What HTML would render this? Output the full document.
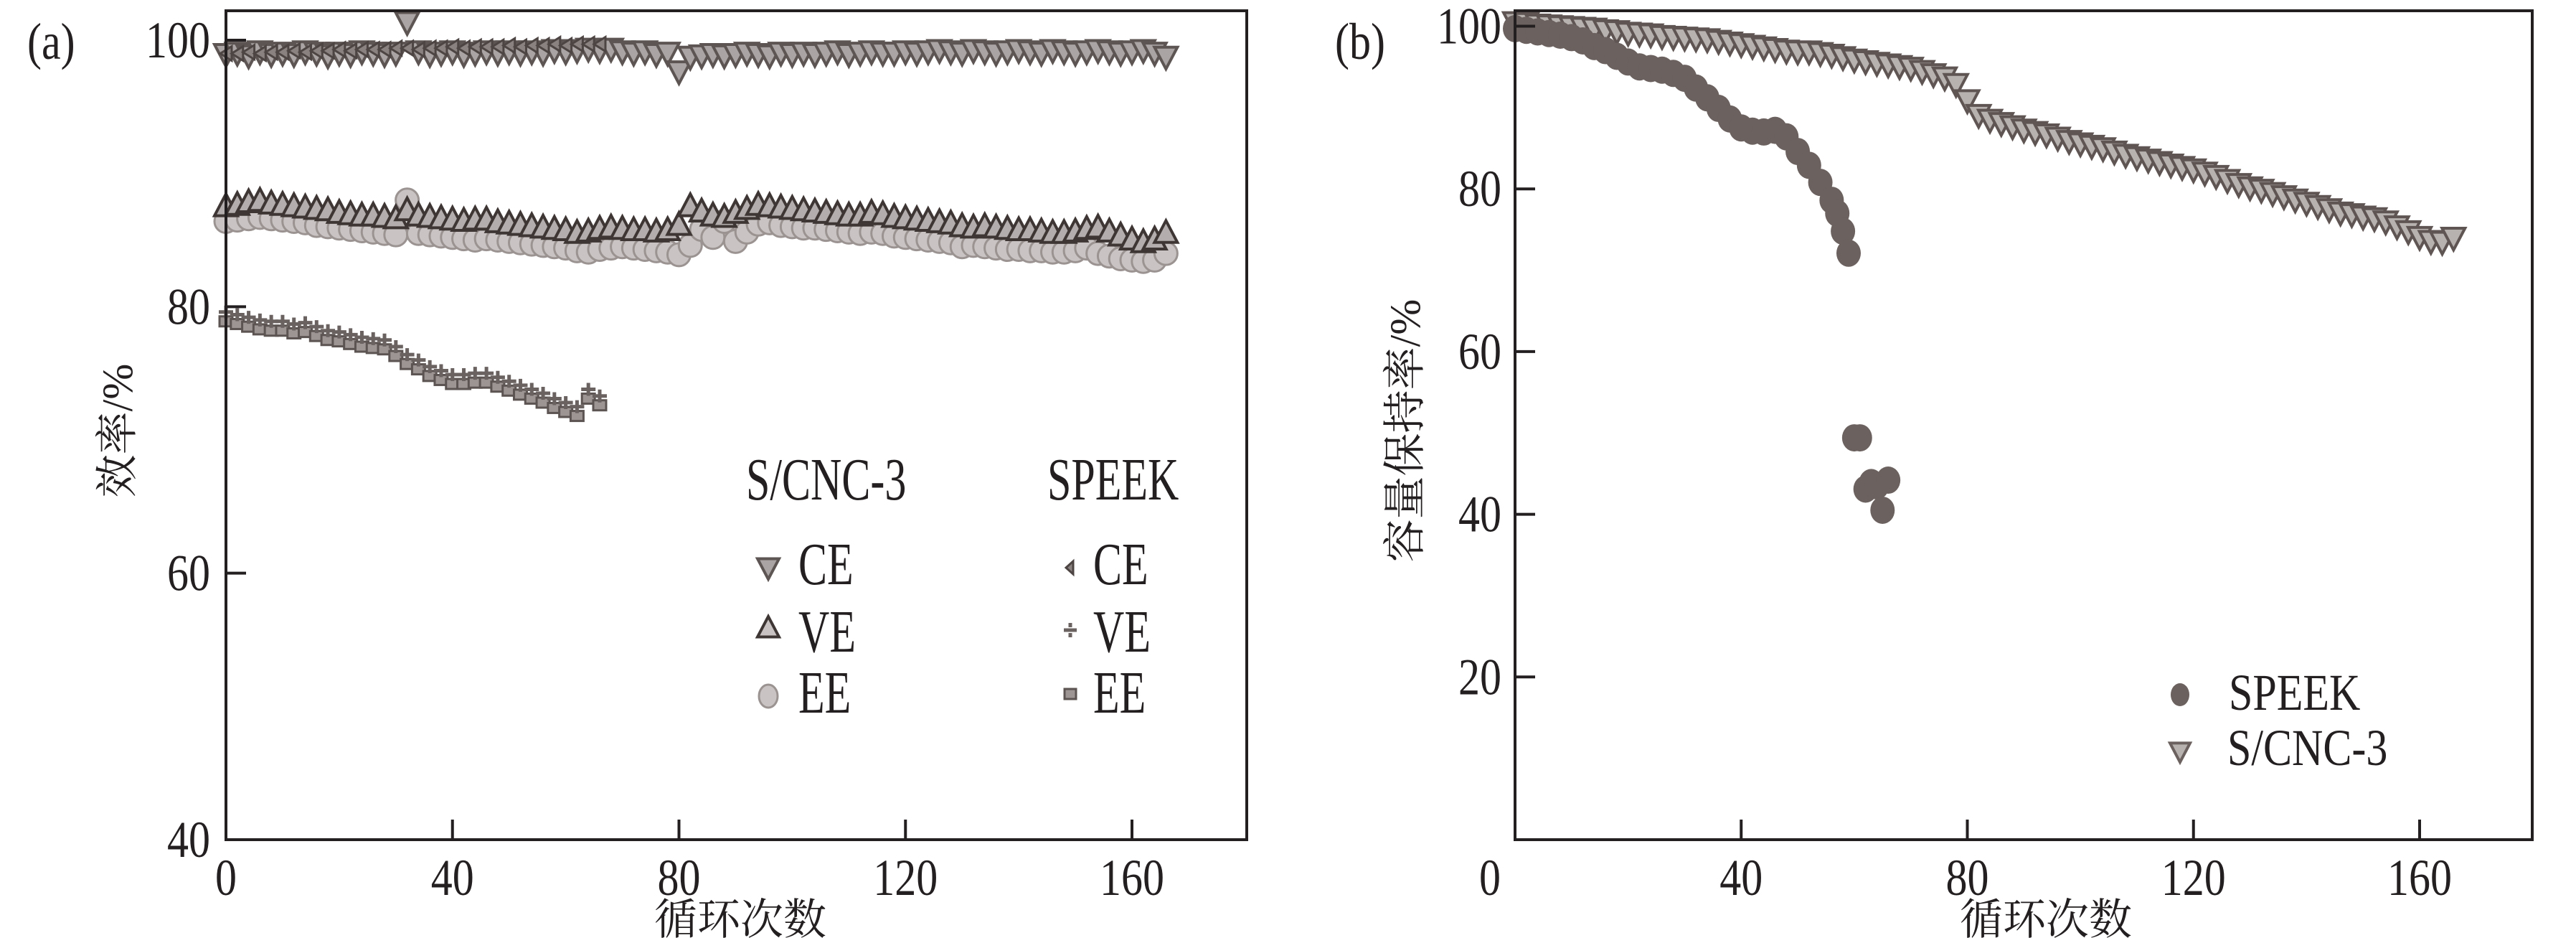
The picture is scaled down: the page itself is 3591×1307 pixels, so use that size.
<!DOCTYPE html>
<html><head><meta charset="utf-8">
<style>
html,body{margin:0;padding:0;background:#fff;}
svg{display:block;}
</style></head>
<body>
<svg id="fig" width="3591" height="1307" viewBox="0 0 3591 1307" xmlns="http://www.w3.org/2000/svg">
<g id="pa"></g>
<g id="pb"></g>
</svg>
<script>
// ---------- Panel (a) data ----------
const aCE = [98.9,99.0,98.8,99.1,98.9,99.0,98.9,99.1,99.0,98.8,99.0,98.9,99.1,99.0,98.9,99.0,101.3,99.1,98.9,99.0,99.1,98.9,99.0,99.1,99.0,99.1,99.0,99.1,99.0,99.2,99.1,99.2,99.3,99.2,99.3,99.1,99.0,99.1,98.9,99.0,97.6,98.7,98.8,98.9,98.8,98.9,99.0,98.9,98.8,99.0,98.9,99.0,98.9,99.0,99.1,98.9,99.0,99.1,99.0,99.0,99.1,99.0,99.1,99.2,99.1,99.0,99.2,99.1,99.0,99.1,99.2,99.1,99.0,99.2,99.1,99.0,99.1,99.2,99.1,99.0,99.1,99.2,99.0,98.7];
const aVE = [87.6,87.7,87.9,88.0,87.8,87.7,87.6,87.5,87.4,87.3,87.1,87.0,86.9,86.9,86.8,86.7,87.3,86.9,86.8,86.7,86.6,86.5,86.6,86.6,86.4,86.3,86.2,86.1,86.0,85.9,85.8,85.6,85.7,85.9,86.0,85.9,85.8,85.8,85.7,85.8,86.2,87.6,87.2,86.9,86.8,87.1,87.4,87.7,87.6,87.5,87.4,87.3,87.2,87.1,87.0,86.9,86.9,87.1,87.0,86.8,86.7,86.6,86.5,86.4,86.3,86.1,86.0,86.1,86.0,85.9,85.8,85.8,85.7,85.6,85.6,85.7,85.9,86.0,85.7,85.4,85.1,84.9,85.1,85.6];
const aEE = [86.4,86.5,86.6,86.7,86.6,86.5,86.4,86.3,86.1,86.0,85.9,85.8,85.7,85.6,85.5,85.4,88.0,85.5,85.4,85.3,85.2,85.1,85.0,85.1,85.0,84.9,84.8,84.7,84.6,84.5,84.4,84.2,84.1,84.3,84.4,84.5,84.4,84.3,84.2,84.1,83.9,84.6,85.8,85.2,86.4,84.9,85.6,86.2,86.3,86.1,86.0,85.9,85.9,85.8,85.7,85.6,85.5,85.6,85.5,85.3,85.2,85.1,85.0,84.9,84.8,84.5,84.6,84.5,84.4,84.3,84.3,84.2,84.2,84.1,84.1,84.2,84.4,84.0,83.8,83.6,83.5,83.4,83.5,84.0];
const sCE = [99.0,99.0,99.1,99.0,99.1,99.1,99.2,99.1,99.2,99.2,99.3,99.2,99.3,99.3,99.3,99.4,99.4,99.3,99.4,99.4,99.5,99.4,99.5,99.5,99.5,99.6,99.5,99.6,99.6,99.7,99.6,99.7,99.7,99.7];
const sVE = [79.6,79.4,79.2,79.0,78.9,78.9,78.7,78.8,78.5,78.2,78.1,77.9,77.7,77.6,77.5,77.0,76.4,76.0,75.5,75.2,74.9,74.9,75.0,75.0,74.7,74.4,74.1,73.8,73.5,73.1,72.8,72.5,73.8,73.3];
const sEE = [78.9,78.7,78.5,78.3,78.2,78.2,78.0,78.1,77.8,77.5,77.4,77.2,77.0,76.9,76.8,76.3,75.7,75.3,74.8,74.5,74.2,74.2,74.3,74.3,74.0,73.7,73.4,73.1,72.8,72.4,72.1,71.8,73.1,72.6];
const aXTicks = [0,40,80,120,160];
const aYTicks = [40,60,80,100];
// ---------- Panel (b) data ----------
const bSCNC = [100.4,100.3,100.1,100.0,99.9,99.8,99.7,99.6,99.4,99.3,99.1,99.0,98.9,98.7,98.6,98.5,98.4,98.3,98.1,97.9,97.7,97.5,97.3,97.1,96.9,96.8,96.8,96.6,96.4,96.1,95.8,95.6,95.4,95.2,95.0,94.8,94.4,94.0,93.6,92.8,90.8,89.0,88.4,88.0,87.6,87.2,86.9,86.6,86.2,85.8,85.5,85.2,84.9,84.5,84.1,83.8,83.5,83.2,82.9,82.6,82.3,81.9,81.5,81.0,80.5,80.1,79.8,79.4,79.0,78.6,78.2,77.8,77.4,77.0,76.8,76.5,76.3,75.9,75.3,74.7,74.0,73.5,73.4,73.9];
const bSpCycles = [0,2,4,6,8,10,12,14,16,18,20,22,24,26,28,30,32,34,36,38,40,42,44,46,48,50,52,54,56,57,58,59,60,61,62,63,64,65,66];
const bSPEEK = [99.7,99.5,99.3,99.1,98.9,98.6,98.2,97.5,97.0,96.3,95.6,95.0,94.8,94.6,94.2,93.6,92.4,91.2,89.9,88.6,87.5,87.1,87.0,87.2,86.4,84.6,82.9,80.8,78.6,77.0,74.8,72.1,49.4,49.4,43.1,43.9,43.5,40.5,44.2];
const bXTicks = [40,80,120,160];
const bYTicks = [20,40,60,80,100];

const NS = "http://www.w3.org/2000/svg";
const SERIF = '"Liberation Serif","Times New Roman","DejaVu Serif",serif';
const CJK = '"Liberation Serif","Noto Serif CJK SC","Noto Sans CJK SC",serif';
function mk(parent, tag, attrs){ const e=document.createElementNS(NS,tag); for(const k in attrs) e.setAttribute(k,attrs[k]); parent.appendChild(e); return e; }
function txt(parent, x, y, s, size, anchor, sy, fam){
  const e = mk(parent,'text',{x:0,y:0,'font-size':size,'font-family':fam||SERIF,fill:'#231f20','text-anchor':anchor||'start',transform:`translate(${x},${y}) scale(1,${sy||1})`});
  e.textContent = s; return e;
}
const INK = "#231f20";
function triDown(g,x,y,s,fill,stroke){ return mk(g,'path',{d:`M${x-s/2},${y-s*0.45} L${x+s/2},${y-s*0.45} L${x},${y+s*0.5} Z`,fill,stroke,'stroke-width':4}); }
function triUp(g,x,y,s,fill,stroke){ return mk(g,'path',{d:`M${x-s/2},${y+s*0.45} L${x+s/2},${y+s*0.45} L${x},${y-s*0.5} Z`,fill,stroke,'stroke-width':4}); }

// ============ Panel A ============
(function(){
  const g = document.getElementById('pa');
  const L=315, R=1738, T=15, B=1170;
  const X = v => L + v*(1578-315)/160;
  const Y = v => B - (v-40)*(B-56)/60;
  const plot = mk(g,'g',{});
  
  
  sEE.forEach((v,i)=>{
    const c=i*2;
    const m = mk(plot,'rect',{x:X(c)-9,y:Y(v)-7,width:18,height:14,fill:'#9d9594',stroke:'#5c5452','stroke-width':3});
    
    
  });
  sVE.forEach((v,i)=>{
    const c=i*2;
    const m = mk(plot,'path',{d:`M${X(c)-10},${Y(v)} h20 M${X(c)},${Y(v)-9} v18`,stroke:'#6a6261','stroke-width':5});
    
    
  });
  aEE.forEach((v,i)=>{
    const c=i*2;
    const m = mk(plot,'circle',{cx:X(c),cy:Y(v),r:16,fill:'#c9c4c3',stroke:'#9a9392','stroke-width':3});
    
    
  });
  aVE.forEach((v,i)=>{
    const c=i*2;
    const m = triUp(plot,X(c),Y(v),32,'#b3aead','#3e3634');
    
    
  });
  aCE.forEach((v,i)=>{
    const c=i*2;
    const m = triDown(plot,X(c),Y(v),32,'#aaa5a4','#5d5553');
    
    
  });
  sCE.forEach((v,i)=>{
    const c=i*2;
    const m = mk(plot,'path',{d:`M${X(c)+8},${Y(v)-10} L${X(c)+8},${Y(v)+10} L${X(c)-8},${Y(v)} Z`,fill:'#8a8281',stroke:'#4d4543','stroke-width':3});
    
    
  });
  const box = mk(g,'rect',{x:L,y:T,width:R-L,height:B-T,fill:'none',stroke:INK,'stroke-width':4});
  
  
  aXTicks.forEach(v=>{
    if(v>0){ const t=mk(g,'line',{x1:X(v),x2:X(v),y1:B,y2:B-28,stroke:INK,'stroke-width':4});
        }
    const l = txt(g,X(v),1247,String(v),60,'middle',1.2);
    
    
  });
  aYTicks.forEach(v=>{
    if(v>40){ const t=mk(g,'line',{x1:L,x2:L+28,y1:Y(v),y2:Y(v),stroke:INK,'stroke-width':4});
        }
    const l = txt(g,293,Y(v)+24,String(v),60,'end',1.2);
    
    
  });
  const pl = txt(g,38,82,'(a)',60,'start',1.2);
  
  
  const xt = txt(g,1032,1302,'循环次数',60,'middle',1.0,CJK);
  
  
  const yt = mk(g,'text',{x:0,y:0,'font-size':60,'font-family':CJK,fill:INK,'text-anchor':'middle',transform:'translate(184,600) rotate(-90)'});
  yt.textContent='效率/%';
  
  
  const lg = mk(g,'g',{});
  
  
  txt(lg,1040,696,'S/CNC-3',60,'start',1.4);
  txt(lg,1460,696,'SPEEK',60,'start',1.4);
  const rows=[['CE',814],['VE',908],['EE',993]];
  rows.forEach(r=>{ const e=txt(lg,1113,r[1],r[0],60,'start',1.4);  
    const f=txt(lg,1524,r[1],r[0],60,'start',1.4);  });
  triDown(lg,1071,792,30,'#aaa5a4','#5d5553');
  triUp(lg,1071,874,30,'#c8c3c2','#3e3634');
  mk(lg,'ellipse',{cx:1071,cy:970,rx:13,ry:16,fill:'#c9c4c3',stroke:'#9a9392','stroke-width':3});
  mk(lg,'path',{d:'M1496,782 L1496,800 L1486,791 Z',fill:'#8a8281',stroke:'#4d4543','stroke-width':3});
  mk(lg,'path',{d:'M1483,878 h18 M1492,868 v6 M1492,882 v6',stroke:'#6a6261','stroke-width':5});
  mk(lg,'rect',{x:1484,y:960,width:16,height:14,fill:'#9d9594',stroke:'#5c5452','stroke-width':3});
})();

// ============ Panel B ============
(function(){
  const g = document.getElementById('pb');
  const L=2112, R=3530, T=15, B=1170;
  const X = v => L + v*(3373-2112)/160;
  const Y = v => B - v*(B-T)/101.9;
  const plot = mk(g,'g',{});
  
  
  bSCNC.forEach((v,i)=>{
    const c=i*2;
    const m = triDown(plot,X(c),Y(v),32,'#b7b2b0','#5f5553');
    
    
  });
  bSpCycles.forEach((c,i)=>{
    const m = mk(plot,'ellipse',{cx:X(c),cy:Y(bSPEEK[i]),rx:17,ry:19,fill:'#6b615e'});
    
    
  });
  const box = mk(g,'rect',{x:L,y:T,width:R-L,height:B-T,fill:'none',stroke:INK,'stroke-width':4});
  
  
  bXTicks.forEach(v=>{
    const t=mk(g,'line',{x1:X(v),x2:X(v),y1:B,y2:B-28,stroke:INK,'stroke-width':4});
     
    const l = txt(g,X(v),1247,String(v),60,'middle',1.2);
    
    
  });
  const z = txt(g,2077,1247,'0',60,'middle',1.2);
  
  
  bYTicks.forEach(v=>{
    const t=mk(g,'line',{x1:L,x2:L+28,y1:Y(v),y2:Y(v),stroke:INK,'stroke-width':4});
     
    const l = txt(g,2093,Y(v)+24,String(v),60,'end',1.2);
    
    
  });
  const pl = txt(g,1861,82,'(b)',60,'start',1.2);
  
  
  const xt = txt(g,2852,1302,'循环次数',60,'middle',1.0,CJK);
  
  
  const yt = mk(g,'text',{x:0,y:0,'font-size':60,'font-family':CJK,fill:INK,'text-anchor':'middle',transform:'translate(1979,600) rotate(-90)'});
  yt.textContent='容量保持率/%';
  
  
  const lg = mk(g,'g',{});
  
  
  mk(lg,'ellipse',{cx:3039,cy:968,rx:13,ry:16,fill:'#6b615e'});
  triDown(lg,3039,1048,28,'#b7b2b0','#6b615e');
  const e1=txt(lg,3107,989,'SPEEK',60,'start',1.2);
   
  const e2=txt(lg,3105,1066,'S/CNC-3',60,'start',1.2);
   
})();
</script>
</body></html>
